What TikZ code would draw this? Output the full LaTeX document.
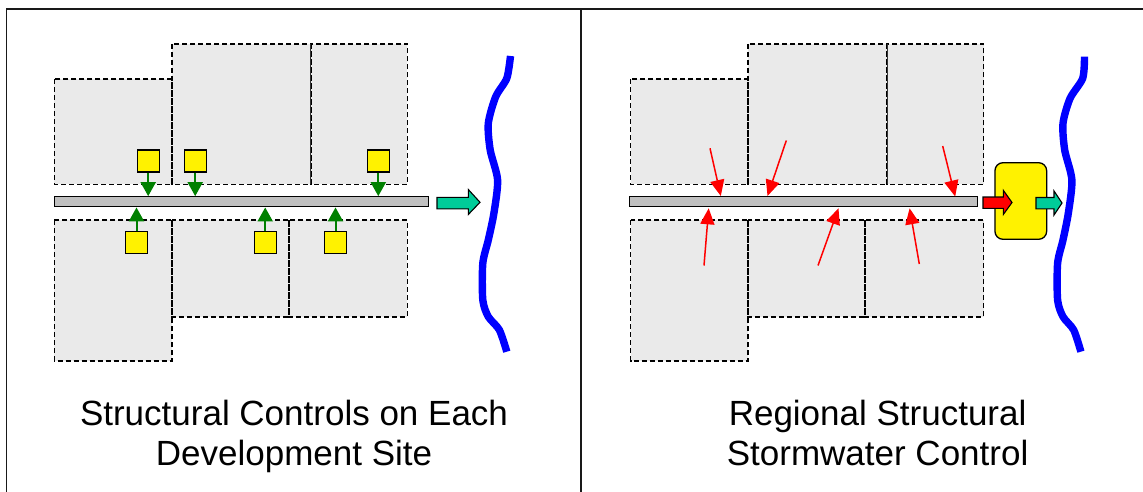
\documentclass[tikz,border=0pt]{standalone}
\usepackage{fontspec}
\setmainfont{Liberation Sans}
\usetikzlibrary{arrows.meta}
\definecolor{sitegray}{RGB}{234,234,234}
\definecolor{pipegray}{RGB}{192,192,192}
\definecolor{tealflow}{RGB}{0,204,153}
\definecolor{darkgreen}{RGB}{0,128,0}
\definecolor{framecol}{RGB}{25,25,25}
\begin{document}
\begin{tikzpicture}[x=1pt,y=-1pt,
  site/.style={fill=sitegray},
  siteedge/.style={draw=black,line width=1.6pt,dash pattern=on 5pt off 3pt},
  sitesep/.style={draw=black!80,line width=0.9pt},
  pipe/.style={draw=black,fill=pipegray,line width=1.3pt,inner sep=0pt,minimum height=10pt},
  sq/.style={draw=black,fill=yellow,line width=1.1pt,minimum size=22pt,inner sep=0pt},
  garrow/.style={draw=darkgreen,line width=2pt,-{Triangle[width=15pt,length=14pt]}},
  rarrow/.style={draw=red,line width=1.5pt,-{Triangle[width=14pt,length=16pt]}},
  blockarrow/.style={draw=black,line width=1.1pt,line join=miter},
  river/.style={draw=blue,line width=7.4pt},
  pond/.style={draw=black,fill=yellow,line width=1.3pt,rounded corners=8pt,minimum width=51.7pt,minimum height=76.6pt,inner sep=0pt},
  title/.style={font=\fontsize{35}{40}\selectfont,anchor=base,inner sep=0pt},
  frameline/.style={draw=framecol,line width=1.7pt},
]
\useasboundingbox (0,0) rectangle (1143,492);
% frame
\draw[frameline] (6.5,492) -- (6.5,9.2) -- (1143,9.2);
\draw[frameline] (580.7,9.2) -- (580.7,492);

% ---------- site blocks (both panels) ----------
\foreach \dx in {0,576.2}{
  \begin{scope}[xshift=\dx pt]
    \path[site] (54.4,79) rectangle (172,184.4);
    \path[site] (172,43.8) rectangle (310.8,184.4);
    \path[site] (310.8,43.8) rectangle (407.3,184.4);
    \path[site] (54.4,220) rectangle (172,360.8);
    \path[site] (172,220) rectangle (289,316.8);
    \path[site] (289,220) rectangle (407.3,316.8);
    \draw[siteedge] (54.4,79) rectangle (172,184.4);
    \draw[siteedge] (172,43.8) rectangle (310.8,184.4);
    \draw[siteedge] (310.8,43.8) rectangle (407.3,184.4);
    \draw[siteedge] (54.4,220) rectangle (172,360.8);
    \draw[siteedge] (172,220) rectangle (289,316.8);
    \draw[siteedge] (289,220) rectangle (407.3,316.8);
    \draw[sitesep] (310.8,43.8) -- (310.8,184.4);
  \end{scope}
}

% ---------- left panel ----------
\node[pipe,minimum width=373.6pt] (lpipe) at (241.6,201.8) {};
\node[sq] (s1) at (148.2,161) {};
\node[sq] (s2) at (195.2,161) {};
\node[sq] (s3) at (378.3,161) {};
\node[sq] (s4) at (136.5,242.7) {};
\node[sq] (s5) at (265.2,242.7) {};
\node[sq] (s6) at (335.5,242.7) {};
\foreach \s in {s1,s2,s3}{\draw[garrow] (\s.south) -- (\s.south |- lpipe.north);}
\foreach \s in {s4,s5,s6}{\draw[garrow] (\s.north) -- (\s.north |- lpipe.south);}

\path[blockarrow,fill=tealflow] (437,197.3) -- (468.3,197.3) -- (468.3,189.5) -- (480,202.3) -- (468.3,214.5) -- (468.3,208.8) -- (437,208.8) -- cycle;

\draw[river] plot[smooth,tension=0.45] coordinates {(510.5,56) (506.8,78.3) (495.7,96.7) (488.3,123.3) (490.2,150) (497.6,180) (493.9,213.3) (488.3,240) (482.8,263.3) (482.8,300) (488.3,316.7) (499.4,330) (506.8,351.7)};

\node[title] (t1a) at (294,425) {Structural Controls on Each};
\node[title] (t1b) at (294,465) {Development Site};

% ---------- right panel ----------
\node[pipe,minimum width=347.9pt] (rpipe) at (803.2,201.8) {};
\coordinate (r1s) at (710,148.3);   \coordinate (r1e) at (720.8,196);
\coordinate (r2s) at (786.3,140.5); \coordinate (r2e) at (767.5,196);
\coordinate (r3s) at (942.7,146);   \coordinate (r3e) at (955.2,196.5);
\coordinate (r4s) at (704,265.5);   \coordinate (r4e) at (708.7,208.3);
\coordinate (r5s) at (818,265.5);   \coordinate (r5e) at (838.5,208.3);
\coordinate (r6s) at (919.3,264);   \coordinate (r6e) at (909.6,208.3);
\foreach \i in {1,...,6}{\draw[rarrow] (r\i s) -- (r\i e);}

\node[pond] (pondbox) at (1020.8,201) {};
\path[blockarrow,fill=red] (983,197) -- (1003.3,197) -- (1003.3,190.3) -- (1012,202.5) -- (1003.3,214.5) -- (1003.3,208.3) -- (983,208.3) -- cycle;
\path[blockarrow,fill=tealflow] (1036,197.5) -- (1054,197.5) -- (1054,191) -- (1062,203) -- (1054,215) -- (1054,208.8) -- (1036,208.8) -- cycle;

\draw[river] plot[smooth,tension=0.45] coordinates {(1084.5,56.7) (1082.7,78.3) (1070.1,98.3) (1063,123.3) (1064.7,150) (1071.9,180) (1068.3,213.3) (1063,240) (1057.6,263.3) (1057.6,300) (1063,316.7) (1073.7,330) (1080.9,351.7)};

\node[title] (t2a) at (877.6,425) {Regional Structural};
\node[title] (t2b) at (877.6,465) {Stormwater Control};
\end{tikzpicture}
\end{document}
